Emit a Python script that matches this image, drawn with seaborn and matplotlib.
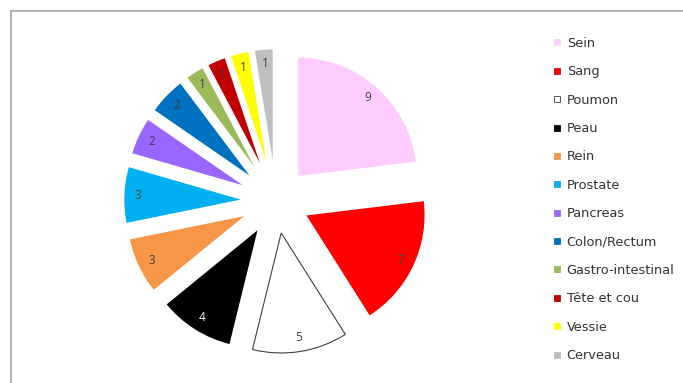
import matplotlib
matplotlib.use("Agg")
import matplotlib.pyplot as plt
from matplotlib.lines import Line2D
from matplotlib.patches import Rectangle
import seaborn as sns

# données
cancers = ["Sein", "Sang", "Poumon", "Peau", "Rein", "Prostate", "Pancreas",
           "Colon/Rectum", "Gastro-intestinal", "Tête et cou", "Vessie", "Cerveau"]
effectifs = [9, 7, 5, 4, 3, 3, 2, 2, 1, 1, 1, 1]
couleurs = ["#FFCCFF", "#FF0000", "#FFFFFF", "#000000", "#F79646", "#00B0F0",
            "#9966FF", "#0070C0", "#9BBB59", "#C00000", "#FFFF00", "#BFBFBF"]

sns.set_theme(style="white")
plt.rcParams['font.family'] = ['Open Sans', 'DejaVu Sans']

fig = plt.figure(figsize=(6.83, 3.83), dpi=100)

# cadre gris (haut et gauche visibles)
fig.patches.append(Rectangle((11 / 683, -0.05), 1.2, 1 - 11 / 383 + 0.05,
                             transform=fig.transFigure, fill=False,
                             edgecolor="#A6A6A6", linewidth=1.2))

ax = fig.add_axes([106 / 683, 12 / 383, 340 / 683, 340 / 383])
lim = 170 / 120
wedges, texts, autotexts = ax.pie(
    effectifs, colors=couleurs, startangle=90, counterclock=False,
    explode=[0.27] * len(effectifs), radius=1,
    autopct=lambda p: "%d" % round(p * sum(effectifs) / 100),
    pctdistance=0.88, textprops=dict(fontsize=8.5, color="#404040"))
wedges[2].set_edgecolor("#404040")
wedges[2].set_linewidth(0.8)
autotexts[3].set_color("#FFFFFF")
ax.set_xlim(-lim, lim)
ax.set_ylim(-lim, lim)
ax.set_aspect("equal")
ax.axis("off")

handles = [Line2D([], [], marker="s", linestyle="none", markersize=5,
                  markerfacecolor=c, markeredgecolor="#404040" if c == "#FFFFFF" else c,
                  markeredgewidth=0.6)
           for c in couleurs]
fig.legend(handles, cancers, loc="upper left",
           bbox_to_anchor=(552 / 683, 1 - 37 / 383), frameon=False,
           prop=dict(family="DejaVu Sans", size=9.3),
           labelspacing=1.19, handlelength=0.72, handletextpad=0.42,
           borderpad=0, borderaxespad=0, labelcolor="#333333")

fig.savefig("out.png", dpi=100, facecolor="white")
